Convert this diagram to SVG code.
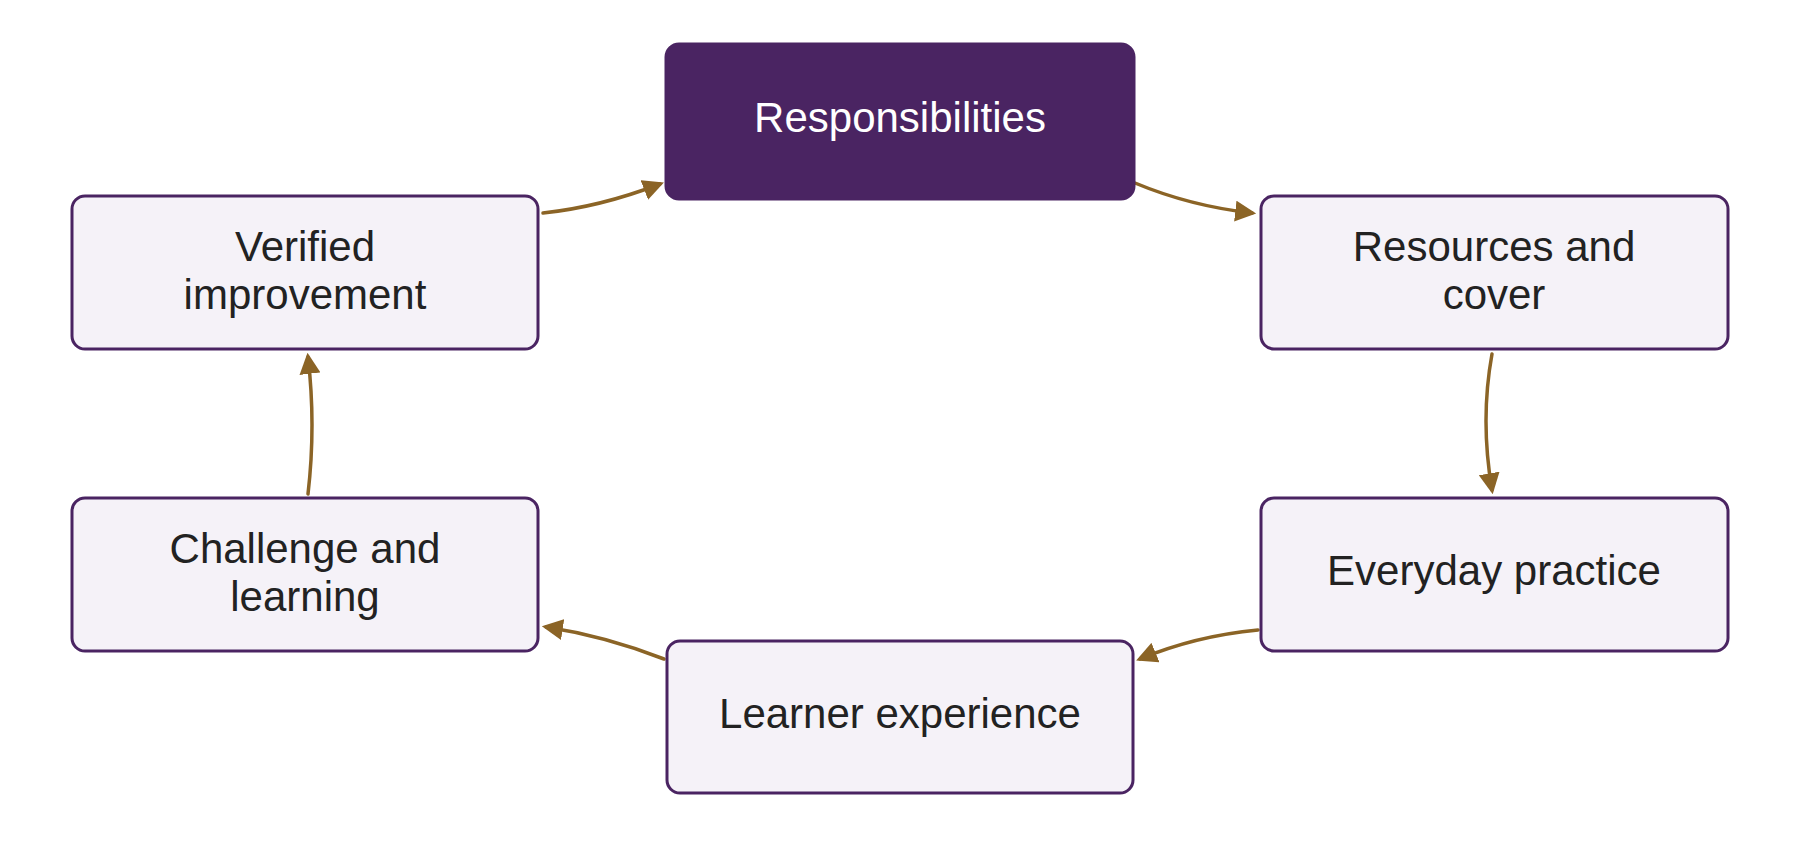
<svg xmlns="http://www.w3.org/2000/svg" width="1800" height="864" viewBox="0 0 1800 864">
<style>
.box{fill:#f5f2f8;stroke:#4a2462;stroke-width:3}
.hl{fill:#4a2462;stroke:#4a2462;stroke-width:3}
text{font-family:"Liberation Sans",Arial,sans-serif;font-size:42px;fill:#222;text-anchor:middle}
.w{fill:#fff}
.c{fill:none;stroke:#8b6426;stroke-width:3.5;stroke-linecap:round}
</style>
<defs><marker id="a" viewBox="0 0 10 10" refX="8" refY="5" markerWidth="6" markerHeight="6" markerUnits="strokeWidth" orient="auto"><path d="M0,0L10,5L0,10z" fill="#8b6426"/></marker></defs>
<rect width="1800" height="864" fill="#fff"/>
<g id="connectors">
<path class="c" marker-end="url(#a)" d="M543,213 Q600,207 660,184"/>
<path class="c" marker-end="url(#a)" d="M1135,183 Q1190,206 1252,213"/>
<path class="c" marker-end="url(#a)" d="M1492,354 Q1480,420 1492,490"/>
<path class="c" marker-end="url(#a)" d="M1258,630 Q1195,636 1140,659"/>
<path class="c" marker-end="url(#a)" d="M664,659 Q605,636 546,627"/>
<path class="c" marker-end="url(#a)" d="M308,494 Q316,425 308,357"/>
</g>
<g id="responsibilities"><rect class="hl" x="666" y="44" width="468" height="155" rx="13"/><text class="w" x="900" y="132">Responsibilities</text></g>
<g id="resources"><rect class="box" x="1261" y="196" width="467" height="153" rx="13"/><text x="1494" y="261">Resources and</text><text x="1494" y="309">cover</text></g>
<g id="everyday"><rect class="box" x="1261" y="498" width="467" height="153" rx="13"/><text x="1494" y="585">Everyday practice</text></g>
<g id="learner"><rect class="box" x="667" y="641" width="466" height="152" rx="13"/><text x="900" y="728">Learner experience</text></g>
<g id="challenge"><rect class="box" x="72" y="498" width="466" height="153" rx="13"/><text x="305" y="563">Challenge and</text><text x="305" y="611">learning</text></g>
<g id="verified"><rect class="box" x="72" y="196" width="466" height="153" rx="13"/><text x="305" y="261">Verified</text><text x="305" y="309">improvement</text></g>
</svg>
